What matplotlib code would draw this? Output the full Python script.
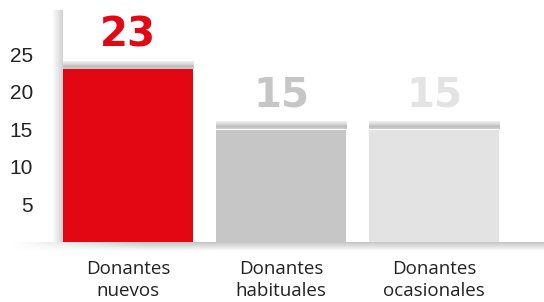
import numpy as np
import matplotlib
matplotlib.use("Agg")
import matplotlib.pyplot as plt
from matplotlib.colors import LinearSegmentedColormap

categories = ["Donantes\nnuevos", "Donantes\nhabituales", "Donantes\nocasionales"]
values = [23, 15, 15]
bar_colors = ["#E30613", "#C6C6C6", "#E2E3E2"]
label_colors = ["#E30613", "#C6C6C6", "#E2E3E2"]
yticks = [5, 10, 15, 20, 25]

W, H = 544, 302
fig = plt.figure(figsize=(W / 100, H / 100), dpi=100)

# background decoration axes in pixel coordinates
bg = fig.add_axes([0, 0, 1, 1])
bg.set_xlim(0, W)
bg.set_ylim(H, 0)
bg.axis("off")
grad_h = np.linspace(0, 1, 64).reshape(1, -1)
cm_left = LinearSegmentedColormap.from_list("l", ["#ffffff", "#d2d2d2"])
bg.imshow(grad_h, extent=(52, 63, 242, 10), cmap=cm_left, aspect="auto", zorder=1)
grad_v = np.linspace(1, 0, 64).reshape(-1, 1)
cm_bot = LinearSegmentedColormap.from_list("b", ["#ffffff", "#c4c4c4"])
gv = np.tile(grad_v, (1, 200))
fade = np.clip(np.linspace(0, 4, 200), 0, 1)
gv = gv * fade[None, :]
bg.imshow(gv, extent=(12, W, 251, 242), cmap=cm_bot, aspect="auto", zorder=1,
          vmin=0, vmax=1)

ax = fig.add_axes([55 / W, 60 / H, (W - 55) / W, 232 / H])
ax.patch.set_alpha(0)
x = np.arange(len(categories))
width = 0.85
ax.bar(x, values, width=width, color=bar_colors, zorder=3)

cm_band = LinearSegmentedColormap.from_list("t", ["#efefef", "#dcdcdc", "#bcbcbc", "#d0d0d0"])
band = np.linspace(0, 1, 32).reshape(-1, 1)
for xi, v in zip(x, values):
    ax.imshow(band, extent=(xi - width / 2, xi + width / 2, v, v + 0.95),
              cmap=cm_band, aspect="auto", zorder=2)

for xi, v, c in zip(x, values, label_colors):
    ax.text(xi, v + 1.85, str(v), ha="center", va="bottom", color=c,
            fontsize=29, fontweight="bold", family="DejaVu Sans", zorder=4)

ax.set_xlim((55 - 128) / 153, (W - 128) / 153)
ax.set_ylim(0, 232 / 7.5)
ax.set_yticks(yticks)
ax.set_yticklabels([str(t) for t in yticks], family="Liberation Sans",
                   fontsize=15, color="#222222")
ax.tick_params(axis="y", length=0, pad=16)
ax.set_xticks([])
for s in ax.spines.values():
    s.set_visible(False)

for xi, c in zip(x, categories):
    ax.text(xi, -0.077, c, transform=ax.get_xaxis_transform(), ha="center",
            va="top", fontsize=13.5, family="Open Sans", color="#222222",
            linespacing=1.32)

fig.savefig("out.png", dpi=100)
